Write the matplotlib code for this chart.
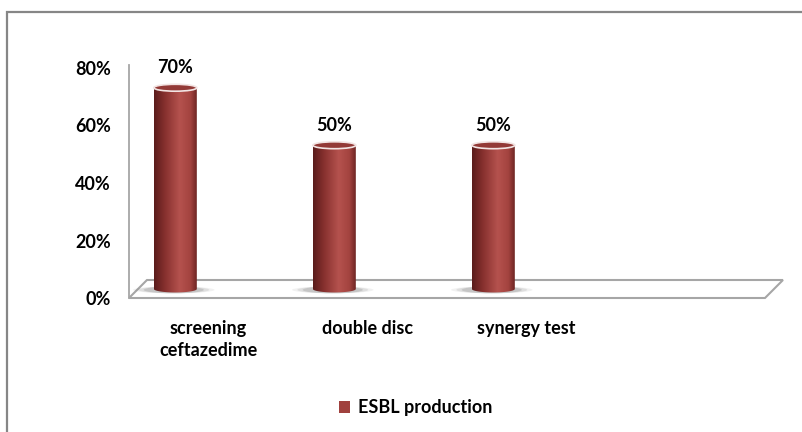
import numpy as np
import matplotlib
matplotlib.use("Agg")
import matplotlib.pyplot as plt
from matplotlib.patches import Polygon, Ellipse, Rectangle, Patch
from matplotlib.colors import LinearSegmentedColormap

plt.rcParams['font.family'] = ['Lato', 'DejaVu Sans']

# ---- data ----
categories = ["screening\nceftazedime", "double disc", "synergy test", ""]
values = [70, 50, 50]          # percent
y_ticks = [0, 20, 40, 60, 80]
series_name = "ESBL production"

# ---- style ----
BAR_RED = "#A0413E"
EDGE_GREY = "#A6A6A6"
FS = 13
DEPTH_X = 0.113      # floor depth, x data units
DEPTH_Y = 6.26       # floor depth, y data units (percent)
CYL_SHIFT = -0.265   # cylinder position relative to slot centre (front plane)
CYL_W = 0.27         # cylinder diameter in x data units
CAP_H = 2.4          # apparent height of the elliptical cap

fig = plt.figure(figsize=(8.02, 4.32), dpi=100)
ax = fig.add_axes([129 / 802, 134 / 432, 636 / 802, 230 / 432])
ax.set_xlim(-0.5, 3.5)
ax.set_ylim(0, 80)
for s in ax.spines.values():
    s.set_visible(False)

ax.set_yticks(y_ticks)
ax.set_yticklabels([f"{t}%" for t in y_ticks], fontsize=FS, fontweight="bold")
ax.set_xticks(range(len(categories)))
ax.set_xticklabels(categories, fontsize=FS, fontweight="bold", linespacing=1.35)
ax.tick_params(axis="y", length=0, pad=13)
ax.tick_params(axis="x", length=0, pad=16)

# left wall edge
ax.plot([-0.5, -0.5], [0, 81], color=EDGE_GREY, lw=1.3, clip_on=False, zorder=1)

# floor
x0, x1 = ax.get_xlim()
floor = Polygon([(x0, 0), (x1, 0), (x1 + DEPTH_X, DEPTH_Y), (x0 + DEPTH_X, DEPTH_Y)],
                closed=True, facecolor="white", edgecolor=EDGE_GREY, lw=1.5,
                clip_on=False, zorder=1)
ax.add_patch(floor)

cmap = LinearSegmentedColormap.from_list(
    "cyl", [(0.0, "#5A1C1B"), (0.25, "#86302E"), (0.6, "#B5524E"),
            (0.85, "#A3433F"), (1.0, "#6E2523")])
grad = np.linspace(0, 1, 256).reshape(1, -1)

for i, v in enumerate(values):
    cx = i + CYL_SHIFT + DEPTH_X / 2
    base = DEPTH_Y / 2
    # soft shadow on the floor
    for k, a in zip([1.9, 1.65, 1.4], [0.08, 0.12, 0.18]):
        ax.add_patch(Ellipse((cx - 0.01, base - 0.3), CYL_W * k, CAP_H * 1.0,
                             facecolor="#555555", edgecolor="none", alpha=a,
                             clip_on=False, zorder=2))
    # body outline: sides plus lower half of the base ellipse
    t = np.linspace(np.pi, 2 * np.pi, 40)
    arc = [(cx + CYL_W / 2 * np.cos(a_), base + CAP_H / 2 * np.sin(a_)) for a_ in t]
    body_pts = [(cx - CYL_W / 2, base + v)] + arc + [(cx + CYL_W / 2, base + v)]
    body = Polygon(body_pts, closed=True, facecolor="none", edgecolor="none",
                   clip_on=False, zorder=3)
    ax.add_patch(body)
    im = ax.imshow(grad, cmap=cmap, aspect="auto",
                   extent=(cx - CYL_W / 2, cx + CYL_W / 2, base - CAP_H, base + v),
                   zorder=3, interpolation="bilinear")
    im.set_clip_path(body)
    # cap
    ax.add_patch(Ellipse((cx, base + v), CYL_W, CAP_H, facecolor="#933A37",
                         edgecolor="#F2E4E3", lw=1.2, clip_on=False, zorder=4))
    # value label
    ax.text(cx, base + v + 6.9, f"{v}%", ha="center", va="center",
            fontsize=FS, fontweight="bold", zorder=5)

ax.set_xlim(-0.5, 3.5)
ax.set_ylim(0, 80)

# legend
handle = Patch(facecolor=BAR_RED, edgecolor="none", label=series_name)
fig.legend(handles=[handle], loc="center",
           bbox_to_anchor=(416 / 802, 1 - 408 / 432), frameon=False,
           handlelength=0.6, handleheight=0.6, handletextpad=0.45,
           prop={"family": "Lato", "weight": "bold", "size": FS})

# outer frame
fig.add_artist(Rectangle((7 / 802, -0.1), 1.2, 1 - 12 / 432 + 0.1,
                         transform=fig.transFigure, fill=False,
                         edgecolor="#868686", lw=1.6))

fig.savefig("out.png", dpi=100)
